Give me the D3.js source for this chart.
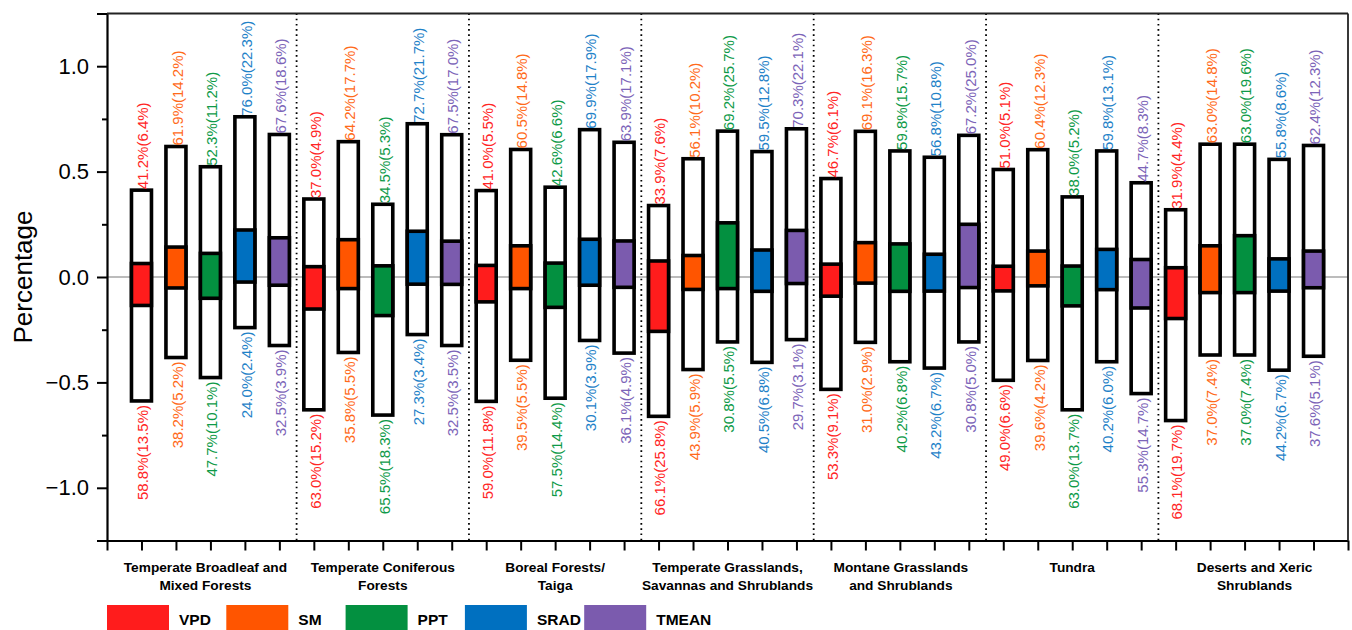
<!DOCTYPE html>
<html><head><meta charset="utf-8">
<script src="https://cdn.jsdelivr.net/npm/d3@7"></script>
<style>body{margin:0;background:#fff} svg{display:block}</style>
</head><body>
<svg id="chart" width="1352" height="630"></svg>
<script>
// ---------- data ----------
const variables = ["VPD", "SM", "PPT", "SRAD", "TMEAN"];
const groupNames = [
  ["Temperate Broadleaf and", "Mixed Forests"],
  ["Temperate Coniferous", "Forests"],
  ["Boreal Forests/", "Taiga"],
  ["Temperate Grasslands,", "Savannas and Shrublands"],
  ["Montane Grasslands", "and Shrublands"],
  ["Tundra"],
  ["Deserts and Xeric", "Shrublands"]
];
// positive share (%) and significant positive share (%), per group x variable
const posPct = [
  [41.2, 61.9, 52.3, 76.0, 67.6],
  [37.0, 64.2, 34.5, 72.7, 67.5],
  [41.0, 60.5, 42.6, 69.9, 63.9],
  [33.9, 56.1, 69.2, 59.5, 70.3],
  [46.7, 69.1, 59.8, 56.8, 67.2],
  [51.0, 60.4, 38.0, 59.8, 44.7],
  [31.9, 63.0, 63.0, 55.8, 62.4]
];
const posSig = [
  [6.4, 14.2, 11.2, 22.3, 18.6],
  [4.9, 17.7, 5.3, 21.7, 17.0],
  [5.5, 14.8, 6.6, 17.9, 17.1],
  [7.6, 10.2, 25.7, 12.8, 22.1],
  [6.1, 16.3, 15.7, 10.8, 25.0],
  [5.1, 12.3, 5.2, 13.1, 8.3],
  [4.4, 14.8, 19.6, 8.6, 12.3]
];
// negative share (%) and significant negative share (%)
const negPct = [
  [58.8, 38.2, 47.7, 24.0, 32.5],
  [63.0, 35.8, 65.5, 27.3, 32.5],
  [59.0, 39.5, 57.5, 30.1, 36.1],
  [66.1, 43.9, 30.8, 40.5, 29.7],
  [53.3, 31.0, 40.2, 43.2, 30.8],
  [49.0, 39.6, 63.0, 40.2, 55.3],
  [68.1, 37.0, 37.0, 44.2, 37.6]
];
const negSig = [
  [13.5, 5.2, 10.1, 2.4, 3.9],
  [15.2, 5.5, 18.3, 3.4, 3.5],
  [11.8, 5.5, 14.4, 3.9, 4.9],
  [25.8, 5.9, 5.5, 6.8, 3.1],
  [9.1, 2.9, 6.8, 6.7, 5.0],
  [6.6, 4.2, 13.7, 6.0, 14.7],
  [19.7, 7.4, 7.4, 6.7, 5.1]
];
const yTicks = [-1.0, -0.5, 0.0, 0.5, 1.0];
const yMinorTicks = [-0.75, -0.25, 0.25, 0.75];

// ---------- styles ----------
const fillColors = {VPD: "#FF1C1C", SM: "#FF5500", PPT: "#039040", SRAD: "#0070C0", TMEAN: "#7B5BAE"};
const textColors = {VPD: "#FF2525", SM: "#FF6A1A", PPT: "#0E9A48", SRAD: "#1F82C8", TMEAN: "#7C64B8"};
const groupLabelOffset = [-5, 0, 0, 0, 1, 0, 10];
const FONT = "'Liberation Sans', Arial, Helvetica, sans-serif";

const records = [];
groupNames.forEach((g, gi) => {
  variables.forEach((v, vi) => {
    records.push({
      group: gi, variable: v, pos: gi * 5 + vi + 1,
      posPct: posPct[gi][vi], posSig: posSig[gi][vi],
      negPct: negPct[gi][vi], negSig: negSig[gi][vi]
    });
  });
});

const svg = d3.select("#chart").style("font-family", FONT);
const x = d3.scaleLinear().domain([0, 36]).range([107, 1348]);
const y = d3.scaleLinear().domain([-1.25, 1.25]).range([540.5, 13.5]);
const boxW = 0.58 * (x(1) - x(0));

// zero line
svg.append("line")
  .attr("x1", x(0)).attr("x2", x(36))
  .attr("y1", y(0)).attr("y2", y(0))
  .attr("stroke", "#7a7a7a").attr("stroke-width", 1.2);

// group separators
const seps = d3.range(1, groupNames.length).map(i => i * 5 + 0.5);
svg.selectAll(".sep").data(seps).join("line")
  .attr("x1", d => x(d)).attr("x2", d => x(d))
  .attr("y1", y(1.25)).attr("y2", y(-1.25))
  .attr("stroke", "#000").attr("stroke-width", 1.8)
  .attr("stroke-dasharray", "1.6,3.6");

// outer boxes
svg.selectAll(".outer").data(records).join("rect")
  .attr("x", d => x(d.pos) - boxW / 2)
  .attr("width", boxW)
  .attr("y", d => y(d.posPct / 100))
  .attr("height", d => y(-d.negPct / 100) - y(d.posPct / 100))
  .attr("fill", "#fff").attr("stroke", "#000").attr("stroke-width", 3.6);

// inner (significant) boxes
svg.selectAll(".inner").data(records).join("rect")
  .attr("x", d => x(d.pos) - boxW / 2)
  .attr("width", boxW)
  .attr("y", d => y(d.posSig / 100))
  .attr("height", d => y(-d.negSig / 100) - y(d.posSig / 100))
  .attr("fill", d => fillColors[d.variable]).attr("stroke", "#000").attr("stroke-width", 3.6);

// labels above
svg.selectAll(".topLab").data(records).join("text")
  .attr("transform", d => `translate(${x(d.pos) + 1.5},${y(d.posPct / 100) - 1}) rotate(-90)`)
  .attr("dy", "0.35em")
  .attr("text-anchor", "start")
  .attr("font-size", 15)
  .attr("fill", d => textColors[d.variable])
  .text(d => `${d.posPct.toFixed(1)}%(${d.posSig.toFixed(1)}%)`);

// labels below
svg.selectAll(".botLab").data(records).join("text")
  .attr("transform", d => `translate(${x(d.pos) + 1.5},${y(-d.negPct / 100) + 4}) rotate(-90)`)
  .attr("dy", "0.35em")
  .attr("text-anchor", "end")
  .attr("font-size", 15)
  .attr("fill", d => textColors[d.variable])
  .text(d => `${d.negPct.toFixed(1)}%(${d.negSig.toFixed(1)}%)`);

// y axis
const yAxis = svg.append("g").attr("transform", `translate(${x(0)},0)`)
  .call(d3.axisLeft(y).tickValues(yTicks).tickFormat(d3.format(".1f")).tickSize(10).tickPadding(8));
yAxis.select(".domain").attr("stroke", "#000").attr("stroke-width", 2.2);
yAxis.selectAll(".tick line").attr("stroke", "#000").attr("stroke-width", 2);
yAxis.selectAll(".tick text").attr("font-size", 22).attr("font-family", FONT).attr("fill", "#000");
const yMinor = svg.append("g").attr("transform", `translate(${x(0)},0)`)
  .call(d3.axisLeft(y).tickValues(yMinorTicks).tickFormat("").tickSize(5));
yMinor.select(".domain").remove();
yMinor.selectAll(".tick line").attr("stroke", "#000").attr("stroke-width", 2);

// x axis
const xAxis = svg.append("g").attr("transform", `translate(0,${y(-1.25)})`)
  .call(d3.axisBottom(x).tickValues(d3.range(0, 37)).tickFormat("").tickSize(10).tickSizeOuter(0));
xAxis.select(".domain").attr("stroke", "#000").attr("stroke-width", 2.2);
xAxis.selectAll(".tick line").attr("stroke", "#000").attr("stroke-width", 2);

// frame top & right
svg.append("line").attr("x1", x(0)).attr("x2", x(36)).attr("y1", y(1.25)).attr("y2", y(1.25))
  .attr("stroke", "#222").attr("stroke-width", 1.8);
svg.append("line").attr("x1", x(36)).attr("x2", x(36)).attr("y1", y(1.25)).attr("y2", y(-1.25))
  .attr("stroke", "#222").attr("stroke-width", 1.8);

// y title
svg.append("text")
  .attr("transform", `translate(32,${y(0)}) rotate(-90)`)
  .attr("text-anchor", "middle")
  .attr("font-size", 26)
  .attr("fill", "#000")
  .text("Percentage");

// group labels
groupNames.forEach((lines, gi) => {
  const cx = x(gi * 5 + 3) + groupLabelOffset[gi];
  const t = svg.append("text")
    .attr("text-anchor", "middle")
    .attr("font-size", 13.7).attr("font-weight", "bold").attr("fill", "#000");
  lines.forEach((ln, li) => {
    t.append("tspan").attr("x", cx).attr("y", 572 + li * 18).text(ln);
  });
});

// legend
const legStep = 119.3;
const leg = svg.selectAll(".leg").data(variables).join("g")
  .attr("transform", (d, i) => `translate(${107 + i * legStep},605)`);
leg.append("rect").attr("width", 62).attr("height", 28).attr("fill", d => fillColors[d]);
leg.append("text").attr("x", 72).attr("y", 19.5)
  .attr("font-size", 15.5).attr("font-weight", "bold").attr("fill", "#000")
  .text(d => d);
</script>
</body></html>
